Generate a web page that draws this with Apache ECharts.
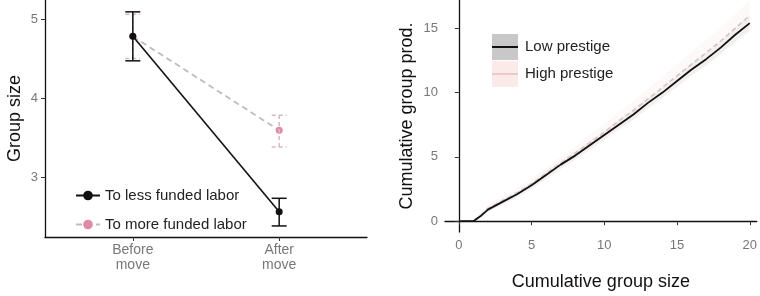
<!DOCTYPE html>
<html><head><meta charset="utf-8">
<script src="https://cdn.jsdelivr.net/npm/echarts@6/dist/echarts.min.js"></script>
<style>html,body{margin:0;padding:0;background:#fff}#c{width:760px;height:296px}</style>
</head><body><div id="c"></div>
<script>
// Left panel data
const moveCats = ['Before\nmove', 'After\nmove'];
const lessMean = [4.78, 2.56];
const lessLo = [4.47, 2.38];
const lessHi = [5.09, 2.73];
const moreMean = [4.78, 3.59];
const moreLo = [4.50, 3.38];
const moreHi = [5.06, 3.78];
const leftYTicks = [3, 4, 5];

// Right panel data
const cumSize = [0, 1, 1.5, 2, 3, 4, 5, 6, 7, 8, 9, 10, 11, 12, 13, 14, 15, 16, 17, 18, 19, 20];
const lowProd = [0, 0, 0.4, 0.9, 1.5, 2.1, 2.8, 3.6, 4.4, 5.1, 5.9, 6.7, 7.5, 8.3, 9.2, 10.0, 10.9, 11.8, 12.6, 13.5, 14.5, 15.4];
const highProd = [0, 0, 0.45, 1.0, 1.6, 2.2, 2.9, 3.7, 4.5, 5.3, 6.1, 6.9, 7.8, 8.6, 9.5, 10.4, 11.3, 12.2, 13.1, 14.0, 15.0, 16.0];
const lowBand = [0.1, 0.1, 0.15, 0.2, 0.2, 0.25, 0.25, 0.3, 0.3, 0.3, 0.35, 0.35, 0.35, 0.4, 0.4, 0.4, 0.45, 0.45, 0.5, 0.5, 0.55, 0.6];
const highBand = [0.1, 0.1, 0.2, 0.25, 0.3, 0.35, 0.4, 0.45, 0.5, 0.55, 0.6, 0.65, 0.7, 0.75, 0.8, 0.85, 0.9, 0.95, 1.0, 1.05, 1.1, 1.2];
const rightXTicks = [0, 5, 10, 15, 20];
const rightYTicks = [0, 5, 10, 15];

const FONT = 'Liberation Sans';
const chart = echarts.init(document.getElementById('c'), null, {renderer: 'canvas'});

function errBar(means, lo, hi, color, dashed, xi) {
  return {
    type: 'custom', xAxisIndex: xi, yAxisIndex: xi, silent: true, z: 3,
    data: means.map((m, i) => [i + 1, lo[i], hi[i]]),
    renderItem: function (params, api) {
      const x = api.value(0);
      const a = api.coord([x, api.value(1)]);
      const b = api.coord([x, api.value(2)]);
      const w = 7.5;
      const st = {stroke: color, lineWidth: 1.5, lineDash: dashed ? [4, 3] : null};
      return {type: 'group', children: [
        {type: 'line', shape: {x1: a[0], y1: a[1], x2: b[0], y2: b[1]}, style: st},
        {type: 'line', shape: {x1: a[0] - w, y1: a[1], x2: a[0] + w, y2: a[1]}, style: st},
        {type: 'line', shape: {x1: b[0] - w, y1: b[1], x2: b[0] + w, y2: b[1]}, style: st}
      ]};
    }
  };
}

function band(vals, half, fill, xi) {
  return {
    type: 'custom', xAxisIndex: xi, yAxisIndex: xi, silent: true, z: 1,
    data: [0],
    renderItem: function (params, api) {
      const up = cumSize.map((x, i) => api.coord([x, vals[i] + half[i]]));
      const dn = cumSize.map((x, i) => api.coord([x, Math.max(vals[i] - half[i], -0.2)])).reverse();
      return {type: 'polygon', shape: {points: up.concat(dn)}, style: {fill: fill}};
    }
  };
}

const axisLineStyle = {color: '#111', width: 1.3};
const tickLabel = {color: '#777', fontSize: 13, fontFamily: FONT};
const nameStyle = {fontSize: 18, color: '#111', fontFamily: FONT};

chart.setOption({
  animation: false,
  backgroundColor: '#fff',
  grid: [
    {left: 45, top: 0, width: 322, height: 237},
    {left: 445, top: 0, width: 315, height: 237}
  ],
  xAxis: [
    {gridIndex: 0, type: 'value', min: 0.4, max: 2.6,
     axisLine: {lineStyle: axisLineStyle}, splitLine: {show: false},
     axisTick: {customValues: [1, 2], length: 4, lineStyle: {color: '#333'}},
     axisLabel: {customValues: [1, 2], formatter: v => moveCats[Math.round(v) - 1], margin: 6, lineHeight: 15, fontSize: 14, color: '#777', fontFamily: FONT}},
    {gridIndex: 1, type: 'value', min: -0.95, max: 20.48,
     axisLine: {lineStyle: axisLineStyle}, splitLine: {show: false},
     axisTick: {customValues: rightXTicks, length: 4, lineStyle: {color: '#333'}},
     axisLabel: Object.assign({customValues: rightXTicks, margin: 7}, tickLabel),
     name: 'Cumulative group size', nameLocation: 'middle', nameGap: 41, nameTextStyle: nameStyle}
  ],
  yAxis: [
    {gridIndex: 0, type: 'value', min: 2.24, max: 5.24,
     axisLine: {show: true, lineStyle: axisLineStyle}, splitLine: {show: false},
     axisTick: {show: true, customValues: leftYTicks, length: 4, lineStyle: {color: '#333'}},
     axisLabel: Object.assign({customValues: leftYTicks, margin: 7}, tickLabel),
     name: 'Group size', nameLocation: 'middle', nameGap: 21, nameTextStyle: nameStyle},
    {gridIndex: 1, type: 'value', min: -0.84, max: 17.2,
     axisLine: {show: true, lineStyle: axisLineStyle}, splitLine: {show: false},
     axisTick: {show: true, customValues: rightYTicks, length: 4, lineStyle: {color: '#333'}},
     axisLabel: Object.assign({customValues: rightYTicks, margin: 7}, tickLabel),
     name: 'Cumulative group prod.', nameLocation: 'middle', nameGap: 29, nameTextStyle: nameStyle}
  ],
  legend: [
    {orient: 'vertical', left: 70, top: 183, itemWidth: 24, itemHeight: 12, itemGap: 14,
     data: ['To less funded labor', 'To more funded labor'],
     textStyle: {fontSize: 15, color: '#222', fontFamily: FONT}, selectedMode: false},
    {orient: 'vertical', left: 487, top: 29, itemWidth: 26, itemHeight: 26, itemGap: 1,
     data: [
       {name: 'Low prestige', icon: 'rect', itemStyle: {color: new echarts.graphic.LinearGradient(0, 0, 0, 1, [
         {offset: 0, color: '#c8c8c8'}, {offset: 0.45, color: '#c8c8c8'}, {offset: 0.45, color: '#111'},
         {offset: 0.54, color: '#111'}, {offset: 0.54, color: '#c8c8c8'}, {offset: 1, color: '#c8c8c8'}])}},
       {name: 'High prestige', icon: 'rect', itemStyle: {color: new echarts.graphic.LinearGradient(0, 0, 0, 1, [
         {offset: 0, color: '#fbeaea'}, {offset: 0.45, color: '#fbeaea'}, {offset: 0.45, color: '#f0c8c8'},
         {offset: 0.54, color: '#f0c8c8'}, {offset: 0.54, color: '#fbeaea'}, {offset: 1, color: '#fbeaea'}])}}
     ],
     textStyle: {fontSize: 15, color: '#222', fontFamily: FONT, padding: [0, 0, 0, 2]}, selectedMode: false}
  ],
  series: [
    errBar(moreMean, moreLo, moreHi, '#d9b8c4', true, 0),
    {name: 'To more funded labor', type: 'line', xAxisIndex: 0, yAxisIndex: 0,
     data: moreMean.map((v, i) => [i + 1, v]), symbol: 'circle', symbolSize: 7,
     lineStyle: {color: '#bdbdbd', width: 1.8, type: [6, 4]},
     itemStyle: {color: '#e08aa4'}, z: 2},
    errBar(lessMean, lessLo, lessHi, '#111', false, 0),
    {name: 'To less funded labor', type: 'line', xAxisIndex: 0, yAxisIndex: 0,
     data: lessMean.map((v, i) => [i + 1, v]), symbol: 'circle', symbolSize: 7,
     lineStyle: {color: '#111', width: 1.6},
     itemStyle: {color: '#111'}, z: 4},
    band(highProd, highBand, 'rgba(240,150,150,0.06)', 1),
    band(lowProd, lowBand, 'rgba(0,0,0,0.04)', 1),
    {name: 'High prestige', type: 'line', xAxisIndex: 1, yAxisIndex: 1,
     data: cumSize.map((x, i) => [x, highProd[i]]), showSymbol: false,
     lineStyle: {color: '#d8c8cb', width: 1.8, type: [5, 3]}, itemStyle: {color: '#f0c8c8'}, z: 3},
    {name: 'Low prestige', type: 'line', xAxisIndex: 1, yAxisIndex: 1,
     data: cumSize.map((x, i) => [x, lowProd[i]]), showSymbol: false,
     lineStyle: {color: '#111', width: 1.8}, itemStyle: {color: '#111'}, z: 4}
  ]
});
</script></body></html>
